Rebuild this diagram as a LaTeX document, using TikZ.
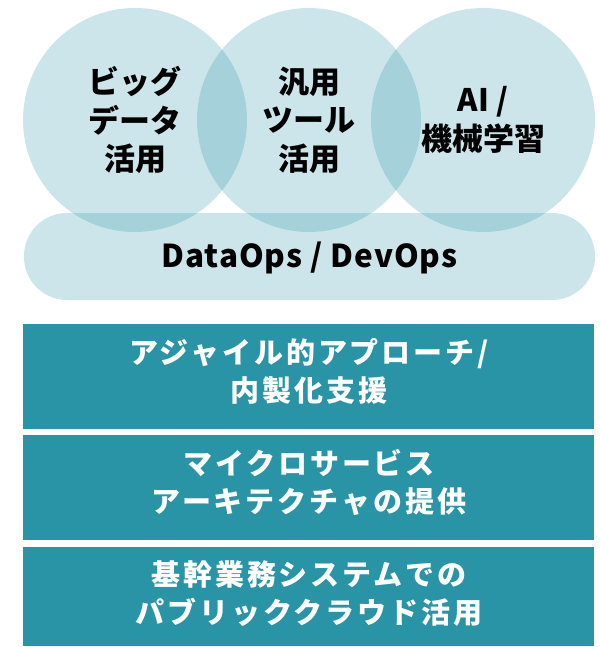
\documentclass[tikz,border=0pt]{standalone}
\usepackage{fontspec}
\newfontfamily\jp{Noto Sans CJK JP}
\newfontfamily\jplat{Noto Sans CJK JP}[LetterSpace=3]
\newfontfamily\jpbox{Noto Sans CJK JP}[LetterSpace=10]
\definecolor{teal}{HTML}{2894A6}
\tikzset{
  venn/.style={circle, minimum size=224pt, inner sep=0pt, fill=teal, fill opacity=0.24,
    text opacity=1, text=black, align=center,
    font=\jp\bfseries\fontsize{31}{38.5}\selectfont},
  barshape/.style={rectangle, rounded corners=43pt, fill=teal, fill opacity=0.24},
  bartextstyle/.style={text=black, font=\jplat\bfseries\fontsize{31.5}{36}\selectfont},
  tealbox/.style={rectangle, fill=teal, inner sep=0pt},
  boxtext/.style={text=white, align=center, inner sep=0pt,
    font=\jpbox\bfseries\fontsize{29}{38}\selectfont}
}
\begin{document}
\begin{tikzpicture}[x=1pt,y=-1pt]
\useasboundingbox (0,0) rectangle (599,647);
% circles
\node[venn] (c1) at (135,120) {ビッグ\\データ\\活用};
\node[venn] (c2) at (309,120) {汎用\\ツール\\活用};
\node[venn] (c3) at (483,120) {AI /\\機械学習};
% bar
\path[barshape] (24,213) rectangle (595,300);
\node[bartextstyle] (bartext) at (309.5,257.5) {DataOps / DevOps};
% boxes
\path[tealbox] (23,324) rectangle (594,429);
\path[tealbox] (23,435) rectangle (594,540);
\path[tealbox] (23,547) rectangle (594,646);
\node[boxtext] (t1) at (309,371.5) {アジャイル的アプローチ/\\内製化支援};
\node[boxtext] (t2) at (309,482) {マイクロサービス\\アーキテクチャの提供};
\node[boxtext] (t3) at (309,594) {基幹業務システムでの\\パブリッククラウド活用};
\end{tikzpicture}
\end{document}
